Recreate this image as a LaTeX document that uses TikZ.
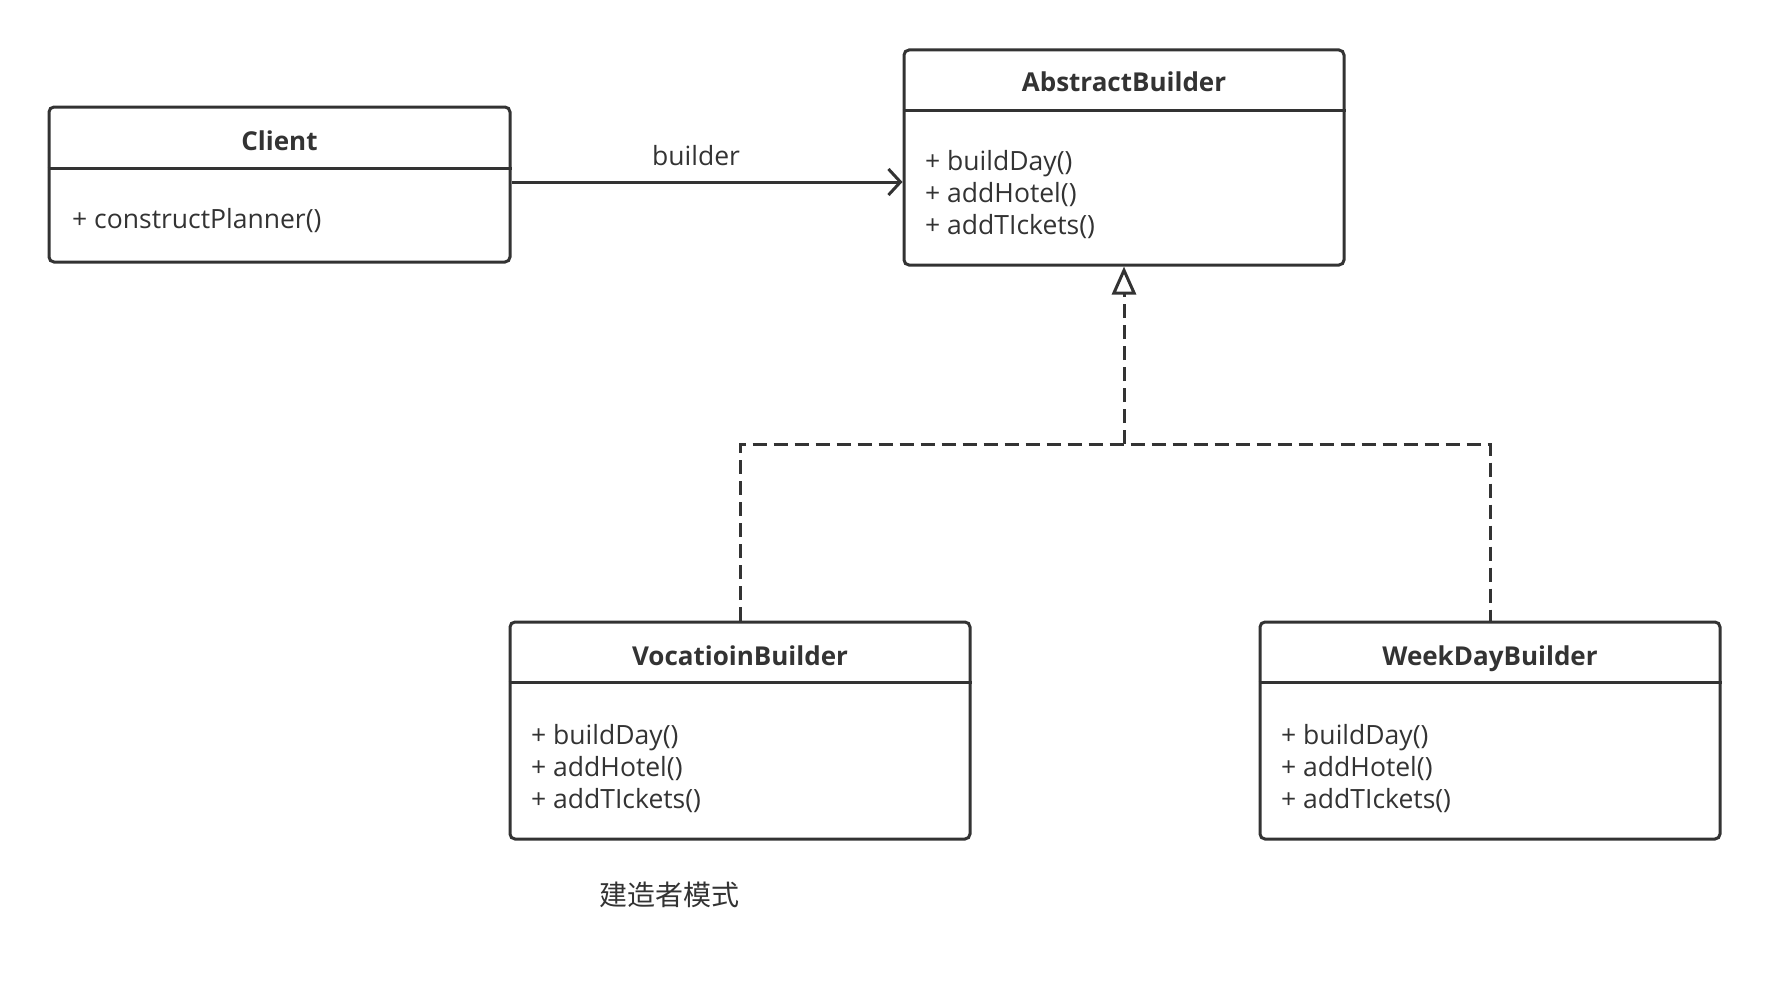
\documentclass[tikz,border=0pt]{standalone}
\usepackage{fontspec}
\setmainfont{Open Sans}
\newfontfamily\cjk{Noto Sans CJK SC}
\usetikzlibrary{arrows.meta}
\definecolor{ink}{HTML}{333333}
\tikzset{
  classbox/.style={draw=ink, line width=3pt, rounded corners=5pt, fill=white, inner sep=0pt},
  divider/.style={draw=ink, line width=3pt},
  titletext/.style={text=ink, font=\fontsize{26}{30}\selectfont\bfseries, inner sep=0pt, text height=19pt, text depth=6pt},
  methtext/.style={text=ink, font=\fontsize{26.5}{32}\selectfont, align=left, inner sep=0pt, anchor=west},
  assoc/.style={draw=ink, line width=3pt, -{Straight Barb[length=12pt, width=26pt, line width=3pt]}},
  realize/.style={draw=ink, line width=3pt, dash pattern=on 14pt off 7pt},
  realizetip/.style={realize, -{Triangle[open, length=28pt, width=24pt, line width=3pt]}},
}
\begin{document}
\begin{tikzpicture}[x=1pt, y=-1pt]
\useasboundingbox (0,0) rectangle (1770,982);
% Client
\node[classbox, minimum width=461pt, minimum height=155pt] (client) at (279.5,184.5) {};
\draw[divider] (client.west |- 0,168) -- (client.east |- 0,168);
\node[titletext] (clientt) at (279.5,143.5) {Client};
\node[methtext] (clientm) at (72,221) {+ constructPlanner()};
% AbstractBuilder
\node[classbox, minimum width=440pt, minimum height=215pt] (ab) at (1124,157.5) {};
\draw[divider] (ab.west |- 0,110) -- (ab.east |- 0,110);
\node[titletext] (abt) at (1124,85) {AbstractBuilder};
\node[methtext] (abm) at (925,195) {+ buildDay()\\+ addHotel()\\+ addTIckets()};
% VocatioinBuilder
\node[classbox, minimum width=460pt, minimum height=217pt] (vb) at (740,730.5) {};
\draw[divider] (vb.west |- 0,682) -- (vb.east |- 0,682);
\node[titletext] (vbt) at (740,658.5) {VocatioinBuilder};
\node[methtext] (vbm) at (531,768.5) {+ buildDay()\\+ addHotel()\\+ addTIckets()};
% WeekDayBuilder
\node[classbox, minimum width=460pt, minimum height=217pt] (wb) at (1490,730.5) {};
\draw[divider] (wb.west |- 0,682) -- (wb.east |- 0,682);
\node[titletext] (wbt) at (1490,658.5) {WeekDayBuilder};
\node[methtext] (wbm) at (1281,768.5) {+ buildDay()\\+ addHotel()\\+ addTIckets()};
% association
\draw[assoc] (client.east |- 0,182) -- (ab.west |- 0,182);
\node[text=ink, font=\fontsize{26.5}{30}\selectfont, inner sep=0pt] (lbl) at (696,156) {builder};
% realization
\coordinate (junc) at (ab.south |- 0,444);
\draw[realize] (vb.north) -- (vb.north |- junc) -- (wb.north |- junc) -- (wb.north);
\draw[realizetip] (junc) -- (ab.south);
% caption
\node[text=ink, font=\cjk\fontsize{28}{32}\selectfont, inner sep=0pt] (cap) at (669,895) {建造者模式};
\end{tikzpicture}
\end{document}
